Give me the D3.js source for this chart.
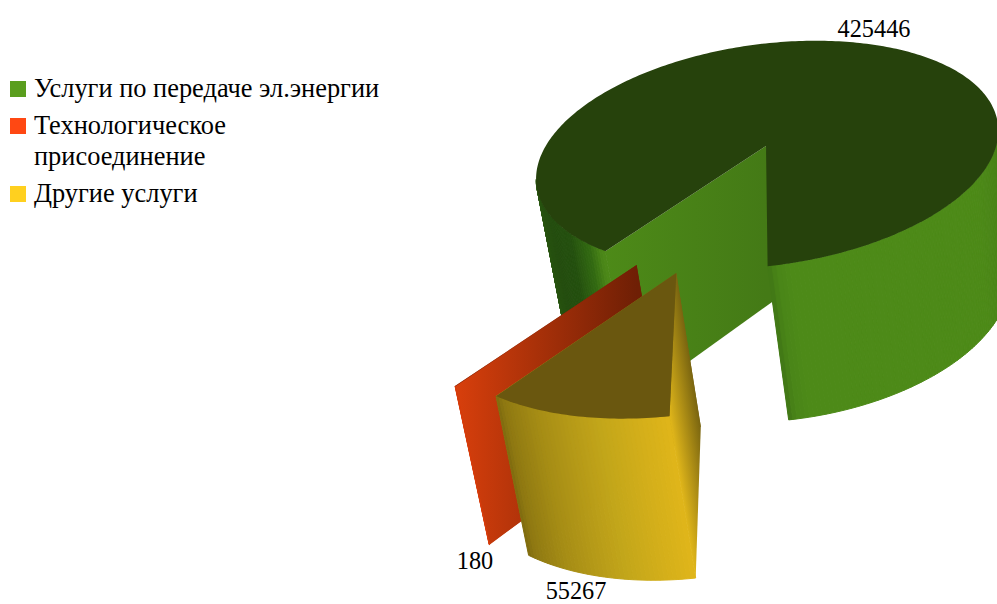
<!DOCTYPE html>
<html><head><meta charset="utf-8">
<script src="https://cdn.jsdelivr.net/npm/d3@7"></script>
<style>html,body{margin:0;padding:0;background:#fff;overflow:hidden}svg{display:block}text{font-family:"Liberation Serif",serif;fill:#000}</style>
</head><body><svg id="c" width="997" height="604"></svg>
<script>
const categories=["Услуги по передаче эл.энергии","Технологическое присоединение","Другие услуги"];
const values=[425446,180,55267];
const legendLines=[["Услуги по передаче эл.энергии"],["Технологическое","присоединение"],["Другие услуги"]];
const legendColors=["#5a9e1e","#ff4813","#ffd01f"];
const topColors=["#26420c","#6a1c05","#6a570f"];
const explodeAmount=[0,1.03,1.045];
const explodeAngle=[0,34.2,23.8];
// wall shading: stops in degrees of pie angle
const wallStops=[
 {d:[0,2,5,60,93,271,295,305,313,317,318.7],c:["#3f7515","#4a8518","#4d8a18","#4d8a18","#437a16","#2d5c12","#244d0f","#24500f","#336a12","#4a8518","#4d8a18"]},
 {d:[0,360],c:["#d63c0b","#d63c0b"]},
 {d:[318.7,321,330,345,360],c:["#7e6a10","#8e7812","#a58c15","#c3a61a","#e0b61a"]}
];
const radialStops=[
 {c:["#4d8a18","#447a16"]},
 {c:["#d83f0c","#6f1f05"]},
 {c:["#e0b61a","#7a6510"]}
];
const labelText=["425446","180","55267"];

// projection of the tilted pie
const view={x0:766,y0:146,A:232,B:110,k:0.08,tilt:7.7*Math.PI/180,vx:1316,s:0.0365,H:146,k2:0.05,alpha0:3.3};
const Mx=Math.cos(view.tilt),My=-Math.sin(view.tilt),Nx=Math.sin(view.tilt),Ny=Math.cos(view.tilt);
function topPt(x,y){const w=1-view.k*y;return [view.x0+(view.A*x*Mx+view.B*y*Nx)/w,view.y0+(view.A*x*My+view.B*y*Ny)/w,y];}
function botPt(p){const w=1-view.k2*p[2];return [p[0]+view.s*(view.vx-p[0])/w,p[1]+view.H/w];}

const svg=d3.select("#c");
const defs=svg.append("defs");
const pie=d3.pie().sort(null).value(d=>d);
const arcs=pie(values);
const line=d3.line().x(d=>d[0]).y(d=>d[1]);

arcs.forEach((arc,i)=>{
  const rad=Math.PI/180;
  const ea=explodeAngle[i]*rad,ex=-Math.sin(ea)*explodeAmount[i],ey=Math.cos(ea)*explodeAmount[i];
  const disk=(r,a)=>{const al=view.alpha0*rad-a;return topPt(ex-r*Math.sin(al),ey+r*Math.cos(al));};
  const g=svg.append("g");
  const a0=arc.startAngle,a1=arc.endAngle;
  const n=Math.max(2,Math.ceil((a1-a0)/rad));
  const as=d3.range(n+1).map(j=>a0+(a1-a0)*j/n);
  const wallColor=d3.scaleLinear().domain(wallStops[i].d).range(wallStops[i].c).clamp(true);

  const radial=(a,id)=>{
    const c=disk(0,a),o=disk(1,a),cb=botPt(c),ob=botPt(o);
    const gid="grad"+i+id;
    const gr=defs.append("linearGradient").attr("id",gid).attr("gradientUnits","userSpaceOnUse");
    if(i==2){
      // shade away from the rim seam, perpendicular to it
      const sx=ob[0]-o[0],sy=ob[1]-o[1],len=Math.hypot(sx,sy),px=sy/len,py=-sx/len;
      const L=(cb[0]-o[0])*px+(cb[1]-o[1])*py;
      gr.attr("x1",o[0]).attr("y1",o[1]).attr("x2",o[0]+px*L).attr("y2",o[1]+py*L);
    } else gr.attr("x1",o[0]).attr("y1",0).attr("x2",c[0]).attr("y2",0);
    gr.selectAll("stop").data(radialStops[i].c).join("stop").attr("offset",(d,j)=>j).attr("stop-color",d=>d);
    g.append("path").attr("d",line([c,o,ob,cb])+"Z").attr("fill","url(#"+gid+")");
  };
  radial(a0,"s");
  radial(a1,"e");

  // outer wall strips, front-facing only
  const front=d3.pairs(as).filter(d=>disk(1,d[1])[0]>disk(1,d[0])[0]);
  g.selectAll("path.s").data(front).join("path").attr("class","s")
   .attr("d",d=>{const p=disk(1,d[0]),q=disk(1,d[1]);return line([p,q,botPt(q),botPt(p)])+"Z";})
   .attr("fill",d=>wallColor((d[0]+d[1])/2/rad)).attr("stroke",d=>wallColor((d[0]+d[1])/2/rad)).attr("stroke-width",1);

  // top face
  g.append("path").attr("d",line([disk(0,a0)].concat(as.map(a=>disk(1,a))))+"Z").attr("fill",topColors[i]);
});

// value labels
const labelPos=[[874,37],[475,569],[576,598.5]];
svg.selectAll("text.v").data(labelText).join("text").attr("class","v")
 .attr("x",(d,i)=>labelPos[i][0]).attr("y",(d,i)=>labelPos[i][1]).attr("text-anchor","middle")
 .style("font-size","24.3px").text(d=>d);

// legend
const legendY=[81,118,186];
const leg=svg.selectAll("g.l").data(categories).join("g").attr("class","l").attr("transform",(d,i)=>`translate(10,${legendY[i]})`);
leg.append("rect").attr("width",16).attr("height",16).attr("fill",(d,i)=>legendColors[i]);
leg.each(function(d,i){
  d3.select(this).selectAll("text").data(legendLines[i]).join("text").attr("x",24).attr("y",(t,j)=>16+j*31)
    .style("font-size","26.4px").text(t=>t);
});
</script></body></html>
